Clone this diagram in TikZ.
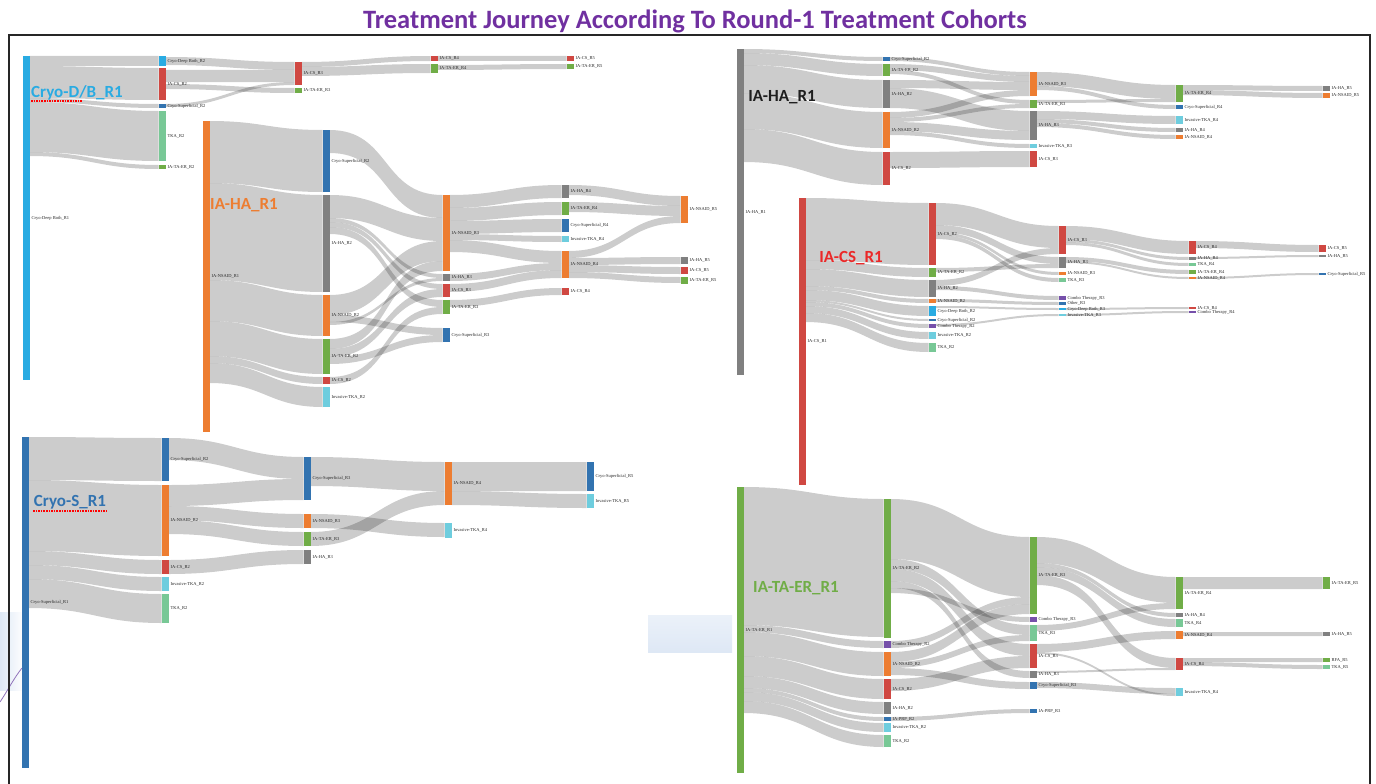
\documentclass[tikz,border=0pt]{standalone}
\usepackage{fontspec}
\setmainfont{Liberation Serif}
\newfontfamily\calib{Carlito}
\usepackage{tikz}
\usetikzlibrary{positioning,backgrounds}
\definecolor{cdb}{RGB}{41,171,226}
\definecolor{sup}{RGB}{50,115,176}
\definecolor{nsaid}{RGB}{237,125,49}
\definecolor{ha}{RGB}{128,128,128}
\definecolor{cs}{RGB}{208,72,66}
\definecolor{te}{RGB}{112,173,71}
\definecolor{tka}{RGB}{120,200,150}
\definecolor{inv}{RGB}{110,205,222}
\definecolor{combo}{RGB}{118,80,170}
\definecolor{titlec}{RGB}{112,48,160}
\definecolor{csred}{RGB}{235,40,40}
\definecolor{hablack}{RGB}{30,30,30}
\definecolor{haze}{RGB}{222,232,245}
\tikzset{
  stage/.style={rectangle, draw=none, inner sep=0pt, outer sep=0pt, minimum width=7pt},
  lbl/.style={inner sep=0pt, font=\fontsize{4.5}{5}\selectfont, text=black!85},
  band/.style={fill=black, fill opacity=0.2},
  cohort/.style={inner sep=0pt, font=\calib\bfseries\fontsize{17}{18}\selectfont},
  spell/.style={draw=red, densely dotted, line width=1.6pt},
  frame/.style={draw=black!85, line width=2pt}
}
\newcommand\snode[6]{%
  \node[stage, fill=#5, minimum height={(#4-#3)*1pt}] (#1) at (#2,{(#3+#4)/2}) {};
  \node[lbl, right=2pt of #1] (#1t) {#6};
}
\newcommand\sflow[5]{%
  \begin{scope}[on background layer]
    \fill[band] (#1.east |- 0,#2) to[out=0,in=180] (#3.west |- 0,#4) -- ++(0,#5)
      to[out=180,in=0] (#1.east |- 0,{#2+#5}) -- cycle;
  \end{scope}
}

\begin{document}
\begin{tikzpicture}[x=1pt, y=-1pt, looseness=1.2]
\useasboundingbox (0,0) rectangle (1376,784);
\begin{scope}[on background layer]
\shade[top color=haze!60, bottom color=haze] (648,615) rectangle (732,652);
\shade[left color=haze, right color=white] (0,612) rectangle (24,690);
\draw[combo!80, line width=0.8pt] (0,702) .. controls (8,690) and (14,678) .. (22,668);
\end{scope}
\node[font=\calib\bfseries\fontsize{26.5}{28}\selectfont, text=titlec] (title) at (695,21) {Treatment Journey According To Round-1 Treatment Cohorts};
\draw[frame] (9,784) -- (9,35) -- (1370,35) -- (1370,784);

\snode{aR1}{26}{56}{380}{cdb}{Cryo-Deep Both\_R1}
\snode{aCDB2}{162}{56}{66}{cdb}{Cryo-Deep Both\_R2}
\snode{aCS2}{162}{68}{100}{cs}{IA-CS\_R2}
\snode{aSup2}{162}{104}{108}{sup}{Cryo-Superficial\_R2}
\snode{aTKA2}{162}{111}{161}{tka}{TKA\_R2}
\snode{aTE2}{162}{165}{169}{te}{IA-TA-ER\_R2}
\snode{aCS3}{298}{62}{85}{cs}{IA-CS\_R3}
\snode{aTE3}{298}{88}{93}{te}{IA-TA-ER\_R3}
\snode{aCS4}{434}{56}{61}{cs}{IA-CS\_R4}
\snode{aTE4}{434}{64}{73}{te}{IA-TA-ER\_R4}
\snode{aCS5}{570}{56}{61}{cs}{IA-CS\_R5}
\snode{aTE5}{570}{64}{69}{te}{IA-TA-ER\_R5}
\sflow{aR1}{56}{aCDB2}{56}{10}
\sflow{aR1}{66}{aCS2}{68}{32}
\sflow{aR1}{98}{aSup2}{104}{4}
\sflow{aR1}{102}{aTKA2}{111}{50}
\sflow{aR1}{152}{aTE2}{165}{4}
\sflow{aCDB2}{57}{aCS3}{62}{8}
\sflow{aCS2}{70}{aCS3}{70}{12}
\sflow{aCS2}{84}{aTE3}{88}{5}
\sflow{aSup2}{104}{aCS3}{82}{3}
\sflow{aCS3}{62}{aCS4}{56}{5}
\sflow{aCS3}{67}{aTE4}{64}{9}
\sflow{aCS4}{56}{aCS5}{56}{5}
\sflow{aTE4}{65}{aTE5}{64}{5}
\node[cohort, text=cdb] (aName) at (77,93) {Cryo-D/B\_R1};
\draw[spell] (31,101) -- (82,101);

\snode{bR1}{206}{121}{432}{nsaid}{IA-NSAID\_R1}
\snode{bSup2}{326}{130}{192}{sup}{Cryo-Superficial\_R2}
\snode{bHA2}{326}{195}{292}{ha}{IA-HA\_R2}
\snode{bNS2}{326}{295}{336}{nsaid}{IA-NSAID\_R2}
\snode{bTE2}{326}{339}{374}{te}{IA-TA-ER\_R2}
\snode{bCS2}{326}{377}{384}{cs}{IA-CS\_R2}
\snode{bInv2}{326}{387}{407}{inv}{Invasive-TKA\_R2}
\snode{bNS3}{446}{195}{271}{nsaid}{IA-NSAID\_R3}
\snode{bHA3}{446}{274}{281}{ha}{IA-HA\_R3}
\snode{bCS3}{446}{284}{297}{cs}{IA-CS\_R3}
\snode{bTE3}{446}{300}{314}{te}{IA-TA-ER\_R3}
\snode{bSup3}{446}{328}{342}{sup}{Cryo-Superficial\_R3}
\snode{bHA4}{565}{185}{198}{ha}{IA-HA\_R4}
\snode{bTE4}{565}{202}{215}{te}{IA-TA-ER\_R4}
\snode{bSup4}{565}{219}{232}{sup}{Cryo-Superficial\_R4}
\snode{bInv4}{565}{236}{242}{inv}{Invasive-TKA\_R4}
\snode{bNS4}{565}{251}{278}{nsaid}{IA-NSAID\_R4}
\snode{bCS4}{565}{288}{295}{cs}{IA-CS\_R4}
\snode{bNS5}{684}{196}{223}{nsaid}{IA-NSAID\_R5}
\snode{bHA5}{684}{257}{264}{ha}{IA-HA\_R5}
\snode{bCS5}{684}{267}{274}{cs}{IA-CS\_R5}
\snode{bTE5}{684}{277}{284}{te}{IA-TA-ER\_R5}
\sflow{bR1}{121}{bSup2}{130}{62}
\sflow{bR1}{183}{bHA2}{195}{97}
\sflow{bR1}{280}{bNS2}{295}{41}
\sflow{bR1}{321}{bTE2}{339}{35}
\sflow{bR1}{356}{bCS2}{377}{7}
\sflow{bR1}{363}{bInv2}{387}{20}
\sflow{bSup2}{130}{bNS3}{195}{23}
\sflow{bHA2}{195}{bNS3}{218}{23}
\sflow{bNS2}{295}{bNS3}{241}{20}
\sflow{bTE2}{339}{bNS3}{261}{10}
\sflow{bHA2}{218}{bHA3}{274}{4}
\sflow{bNS2}{322}{bHA3}{278}{3}
\sflow{bHA2}{222}{bCS3}{284}{5}
\sflow{bTE2}{349}{bCS3}{289}{8}
\sflow{bHA2}{227}{bTE3}{300}{7}
\sflow{bCS2}{377}{bTE3}{307}{7}
\sflow{bNS2}{315}{bSup3}{328}{7}
\sflow{bTE2}{357}{bSup3}{335}{7}
\sflow{bNS3}{195}{bHA4}{185}{13}
\sflow{bNS3}{208}{bTE4}{202}{13}
\sflow{bNS3}{221}{bSup4}{219}{13}
\sflow{bNS3}{234}{bInv4}{236}{6}
\sflow{bNS3}{240}{bNS4}{251}{12}
\sflow{bHA3}{274}{bNS4}{263}{7}
\sflow{bCS3}{284}{bNS4}{270}{8}
\sflow{bTE3}{300}{bCS4}{288}{7}
\sflow{bHA4}{185}{bNS5}{196}{10}
\sflow{bTE4}{202}{bNS5}{206}{10}
\sflow{bNS4}{251}{bNS5}{216}{7}
\sflow{bNS4}{258}{bHA5}{257}{7}
\sflow{bNS4}{265}{bCS5}{267}{7}
\sflow{bNS4}{272}{bTE5}{277}{6}
\node[cohort, text=nsaid] (bName) at (244,205) {IA-HA\_R1};

\snode{cR1}{25}{437}{768}{sup}{Cryo-Superficial\_R1}
\snode{cSup2}{165}{438}{481}{sup}{Cryo-Superficial\_R2}
\snode{cNS2}{165}{485}{556}{nsaid}{IA-NSAID\_R2}
\snode{cCS2}{165}{560}{574}{cs}{IA-CS\_R2}
\snode{cInv2}{165}{577}{591}{inv}{Invasive-TKA\_R2}
\snode{cTKA2}{165}{594}{623}{tka}{TKA\_R2}
\snode{cSup3}{307}{457}{500}{sup}{Cryo-Superficial\_R3}
\snode{cNS3}{307}{514}{528}{nsaid}{IA-NSAID\_R3}
\snode{cTE3}{307}{532}{546}{te}{IA-TA-ER\_R3}
\snode{cHA3}{307}{550}{564}{ha}{IA-HA\_R3}
\snode{cNS4}{448}{462}{505}{nsaid}{IA-NSAID\_R4}
\snode{cInv4}{448}{523}{538}{inv}{Invasive-TKA\_R4}
\snode{cSup5}{590}{462}{491}{sup}{Cryo-Superficial\_R5}
\snode{cInv5}{590}{494}{508}{inv}{Invasive-TKA\_R5}
\sflow{cR1}{437}{cSup2}{438}{43}
\sflow{cR1}{480}{cNS2}{485}{71}
\sflow{cR1}{551}{cCS2}{560}{14}
\sflow{cR1}{565}{cInv2}{577}{14}
\sflow{cR1}{579}{cTKA2}{594}{29}
\sflow{cSup2}{438}{cSup3}{457}{22}
\sflow{cNS2}{485}{cSup3}{479}{21}
\sflow{cNS2}{506}{cNS3}{514}{14}
\sflow{cNS2}{520}{cTE3}{532}{14}
\sflow{cCS2}{560}{cHA3}{550}{14}
\sflow{cSup3}{457}{cNS4}{462}{29}
\sflow{cTE3}{532}{cNS4}{491}{14}
\sflow{cNS3}{514}{cInv4}{523}{14}
\sflow{cNS4}{462}{cSup5}{462}{29}
\sflow{cNS4}{491}{cInv5}{494}{14}
\node[cohort, text=sup] (cName) at (70,502) {Cryo-S\_R1};
\draw[spell] (33,511) -- (107,511);

\snode{dR1}{740}{49}{375}{ha}{IA-HA\_R1}
\snode{dSup2}{886}{57}{61}{sup}{Cryo-Superficial\_R2}
\snode{dTE2}{886}{64}{76}{te}{IA-TA-ER\_R2}
\snode{dHA2}{886}{80}{108}{ha}{IA-HA\_R2}
\snode{dNS2}{886}{112}{148}{nsaid}{IA-NSAID\_R2}
\snode{dCS2}{886}{152}{185}{cs}{IA-CS\_R2}
\snode{dNS3}{1033}{72}{96}{nsaid}{IA-NSAID\_R3}
\snode{dTE3}{1033}{100}{108}{te}{IA-TA-ER\_R3}
\snode{dHA3}{1033}{111}{140}{ha}{IA-HA\_R3}
\snode{dInv3}{1033}{144}{148}{inv}{Invasive-TKA\_R3}
\snode{dCS3}{1033}{151}{167}{cs}{IA-CS\_R3}
\snode{dTE4}{1179}{85}{102}{te}{IA-TA-ER\_R4}
\snode{dSup4}{1179}{105}{109}{sup}{Cryo-Superficial\_R4}
\snode{dInv4}{1179}{116}{124}{inv}{Invasive-TKA\_R4}
\snode{dHA4}{1179}{128}{132}{ha}{IA-HA\_R4}
\snode{dNS4}{1179}{135}{139}{nsaid}{IA-NSAID\_R4}
\snode{dHA5}{1326}{86}{91}{ha}{IA-HA\_R5}
\snode{dNS5}{1326}{93}{98}{nsaid}{IA-NSAID\_R5}
\sflow{dR1}{49}{dSup2}{57}{4}
\sflow{dR1}{53}{dTE2}{64}{12}
\sflow{dR1}{65}{dHA2}{80}{28}
\sflow{dR1}{93}{dNS2}{112}{36}
\sflow{dR1}{129}{dCS2}{152}{33}
\sflow{dSup2}{57}{dNS3}{72}{4}
\sflow{dTE2}{64}{dNS3}{76}{6}
\sflow{dHA2}{80}{dNS3}{82}{8}
\sflow{dNS2}{112}{dNS3}{90}{6}
\sflow{dTE2}{70}{dTE3}{100}{4}
\sflow{dNS2}{118}{dTE3}{104}{4}
\sflow{dHA2}{88}{dHA3}{111}{20}
\sflow{dNS2}{122}{dHA3}{131}{9}
\sflow{dNS2}{131}{dInv3}{144}{4}
\sflow{dCS2}{152}{dCS3}{151}{16}
\sflow{dNS3}{72}{dTE4}{85}{14}
\sflow{dNS3}{86}{dSup4}{105}{4}
\sflow{dTE3}{100}{dTE4}{99}{3}
\sflow{dHA3}{111}{dInv4}{116}{8}
\sflow{dHA3}{119}{dHA4}{128}{4}
\sflow{dHA3}{123}{dNS4}{135}{4}
\sflow{dTE4}{85}{dHA5}{86}{5}
\sflow{dTE4}{90}{dNS5}{93}{5}
\node[cohort, text=hablack] (dName) at (782,97) {IA-HA\_R1};

\snode{eR1}{802}{198}{485}{cs}{IA-CS\_R1}
\snode{eCS2}{932}{203}{265}{cs}{IA-CS\_R2}
\snode{eTE2}{932}{268}{277}{te}{IA-TA-ER\_R2}
\snode{eHA2}{932}{280}{297}{ha}{IA-HA\_R2}
\snode{eNS2}{932}{299}{303}{nsaid}{IA-NSAID\_R2}
\snode{eCDB2}{932}{306}{316}{cdb}{Cryo-Deep Both\_R2}
\snode{eSup2}{932}{319}{321}{sup}{Cryo-Superficial\_R2}
\snode{eCT2}{932}{324}{328}{combo}{Combo Therapy\_R2}
\snode{eInv2}{932}{332}{339}{inv}{Invasive-TKA\_R2}
\snode{eTKA2}{932}{343}{352}{tka}{TKA\_R2}
\snode{eCS3}{1062}{226}{254}{cs}{IA-CS\_R3}
\snode{eHA3}{1062}{257}{268}{ha}{IA-HA\_R3}
\snode{eNS3}{1062}{272}{275}{nsaid}{IA-NSAID\_R3}
\snode{eTKA3}{1062}{278}{282}{tka}{TKA\_R3}
\snode{eCT3}{1062}{296}{300}{combo}{Combo Therapy\_R3}
\snode{eOth3}{1062}{302}{305}{sup}{Other\_R3}
\snode{eCDB3}{1062}{308}{310}{cdb}{Cryo-Deep Both\_R3}
\snode{eInv3}{1062}{314}{316}{inv}{Invasive-TKA\_R3}
\snode{eCS4}{1192}{241}{254}{cs}{IA-CS\_R4}
\snode{eHA4}{1192}{257}{260}{ha}{IA-HA\_R4}
\snode{eTKA4}{1192}{263}{266}{tka}{TKA\_R4}
\snode{eTE4}{1192}{270}{274}{te}{IA-TA-ER\_R4}
\snode{eNS4}{1192}{277}{279}{nsaid}{IA-NSAID\_R4}
\snode{eCSb4}{1192}{307}{309}{cs}{IA-CS\_R4}
\snode{eCT4}{1192}{311}{313}{combo}{Combo Therapy\_R4}
\snode{eCS5}{1322}{245}{252}{cs}{IA-CS\_R5}
\snode{eHA5}{1322}{255}{257}{ha}{IA-HA\_R5}
\snode{eSup5}{1322}{273}{275}{sup}{Cryo-Superficial\_R5}
\sflow{eR1}{198}{eCS2}{203}{62}
\sflow{eR1}{260}{eTE2}{268}{9}
\sflow{eR1}{269}{eHA2}{280}{17}
\sflow{eR1}{286}{eNS2}{299}{4}
\sflow{eR1}{290}{eCDB2}{306}{10}
\sflow{eR1}{300}{eSup2}{319}{2}
\sflow{eR1}{302}{eCT2}{324}{4}
\sflow{eR1}{306}{eInv2}{332}{7}
\sflow{eR1}{313}{eTKA2}{343}{9}
\sflow{eCS2}{203}{eCS3}{226}{22}
\sflow{eHA2}{280}{eCS3}{248}{6}
\sflow{eCS2}{225}{eHA3}{257}{7}
\sflow{eTE2}{268}{eHA3}{264}{4}
\sflow{eCS2}{232}{eNS3}{272}{3}
\sflow{eCS2}{235}{eTKA3}{278}{4}
\sflow{eHA2}{286}{eCT3}{296}{4}
\sflow{eNS2}{299}{eOth3}{302}{3}
\sflow{eCDB2}{306}{eCDB3}{308}{2}
\sflow{eCT2}{324}{eInv3}{314}{2}
\sflow{eCS3}{226}{eCS4}{241}{13}
\sflow{eCS3}{239}{eHA4}{257}{3}
\sflow{eCS3}{242}{eTKA4}{263}{3}
\sflow{eHA3}{257}{eTE4}{270}{4}
\sflow{eHA3}{261}{eNS4}{277}{2}
\sflow{eCDB3}{308}{eCSb4}{307}{2}
\sflow{eInv3}{314}{eCT4}{311}{2}
\sflow{eCS4}{241}{eCS5}{245}{7}
\sflow{eHA4}{257}{eHA5}{255}{2}
\sflow{eNS4}{277}{eSup5}{273}{2}
\node[cohort, text=csred] (eName) at (851,258) {IA-CS\_R1};

\snode{fR1}{740}{487}{773}{te}{IA-TA-ER\_R1}
\snode{fTE2}{887}{499}{638}{te}{IA-TA-ER\_R2}
\snode{fCT2}{887}{641}{648}{combo}{Combo Therapy\_R2}
\snode{fNS2}{887}{652}{676}{nsaid}{IA-NSAID\_R2}
\snode{fCS2}{887}{679}{699}{cs}{IA-CS\_R2}
\snode{fHA2}{887}{702}{714}{ha}{IA-HA\_R2}
\snode{fPRP2}{887}{717}{721}{sup}{IA-PRP\_R2}
\snode{fInv2}{887}{723}{732}{inv}{Invasive-TKA\_R2}
\snode{fTKA2}{887}{735}{747}{tka}{TKA\_R2}
\snode{fTE3}{1033}{537}{614}{te}{IA-TA-ER\_R3}
\snode{fCT3}{1033}{617}{622}{combo}{Combo Therapy\_R3}
\snode{fTKA3}{1033}{625}{641}{tka}{TKA\_R3}
\snode{fCS3}{1033}{644}{668}{cs}{IA-CS\_R3}
\snode{fHA3}{1033}{671}{678}{ha}{IA-HA\_R3}
\snode{fSup3}{1033}{682}{689}{sup}{Cryo-Superficial\_R3}
\snode{fPRP3}{1033}{709}{713}{sup}{IA-PRP\_R3}
\snode{fTE4}{1179}{577}{609}{te}{IA-TA-ER\_R4}
\snode{fHA4}{1179}{613}{617}{ha}{IA-HA\_R4}
\snode{fTKA4}{1179}{619}{627}{tka}{TKA\_R4}
\snode{fNS4}{1179}{631}{639}{nsaid}{IA-NSAID\_R4}
\snode{fCS4}{1179}{658}{670}{cs}{IA-CS\_R4}
\snode{fInv4}{1179}{688}{696}{inv}{Invasive-TKA\_R4}
\snode{fTE5}{1326}{577}{589}{te}{IA-TA-ER\_R5}
\snode{fHA5}{1326}{632}{636}{ha}{IA-HA\_R5}
\snode{fRFA5}{1326}{658}{662}{te}{RFA\_R5}
\snode{fTKA5}{1326}{665}{669}{tka}{TKA\_R5}
\sflow{fR1}{487}{fTE2}{499}{138}
\sflow{fR1}{625}{fCT2}{641}{7}
\sflow{fR1}{632}{fNS2}{652}{24}
\sflow{fR1}{656}{fCS2}{679}{20}
\sflow{fR1}{676}{fHA2}{702}{12}
\sflow{fR1}{688}{fPRP2}{717}{4}
\sflow{fR1}{692}{fInv2}{723}{9}
\sflow{fR1}{701}{fTKA2}{735}{12}
\sflow{fTE2}{499}{fTE3}{537}{60}
\sflow{fCT2}{641}{fTE3}{597}{7}
\sflow{fNS2}{652}{fTE3}{604}{10}
\sflow{fTE2}{588}{fCT3}{617}{5}
\sflow{fTE2}{559}{fTKA3}{625}{10}
\sflow{fNS2}{662}{fTKA3}{635}{6}
\sflow{fTE2}{569}{fCS3}{644}{12}
\sflow{fCS2}{679}{fCS3}{656}{12}
\sflow{fTE2}{581}{fHA3}{671}{7}
\sflow{fNS2}{668}{fSup3}{682}{7}
\sflow{fPRP2}{717}{fPRP3}{709}{4}
\sflow{fTE3}{537}{fTE4}{577}{26}
\sflow{fTKA3}{625}{fTE4}{603}{6}
\sflow{fTE3}{563}{fHA4}{613}{4}
\sflow{fTE3}{567}{fTKA4}{619}{8}
\sflow{fCS3}{644}{fNS4}{631}{8}
\sflow{fTE3}{575}{fCS4}{658}{10}
\sflow{fHA3}{671}{fCS4}{668}{2}
\sflow{fSup3}{682}{fInv4}{688}{6}
\sflow{fCS3}{652}{fInv4}{694}{2}
\sflow{fTE4}{577}{fTE5}{577}{12}
\sflow{fNS4}{632}{fHA5}{632}{4}
\sflow{fCS4}{658}{fRFA5}{658}{4}
\sflow{fCS4}{662}{fTKA5}{665}{4}
\node[cohort, text=te] (fName) at (796,588) {IA-TA-ER\_R1};
\end{tikzpicture}
\end{document}
